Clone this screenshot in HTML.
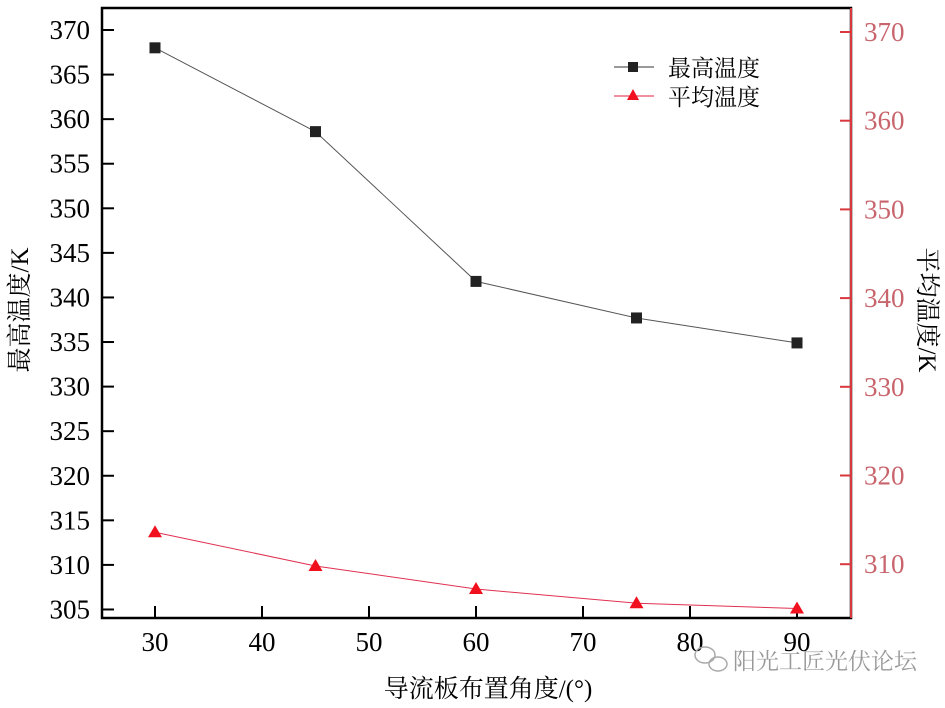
<!DOCTYPE html>
<html><head><meta charset="utf-8"><style>
body{margin:0;background:#fff}
svg text{font-family:"Liberation Serif","Noto Serif CJK SC",serif}
</style></head><body>
<svg id="c" width="945" height="703" viewBox="0 0 945 703">
<rect x="102" y="8" width="749" height="610" fill="none" stroke="#000" stroke-width="2.5"/>
<line x1="851" y1="8" x2="851" y2="618" stroke="#d9383f" stroke-width="2"/>
<g id="xt"></g><g id="yl"></g><g id="yr"></g><g id="series"></g>
<text x="28" y="310" font-size="25" transform="rotate(-90 28 310)" text-anchor="middle">最高温度/K</text>
<text x="919" y="310" font-size="25" transform="rotate(90 919 310)" text-anchor="middle">平均温度/K</text>
<text x="488" y="697" font-size="25" text-anchor="middle">导流板布置角度/(°)</text>
<g>
<line x1="614" y1="67" x2="654" y2="67" stroke="#333" stroke-width="1"/>
<rect x="628" y="62" width="10" height="10" fill="#222"/>
<text x="668" y="76" font-size="23">最高温度</text>
<line x1="614" y1="96" x2="654" y2="96" stroke="#e02040" stroke-width="1"/>
<polygon points="633,89 639,100 627,100" fill="#f0101e"/>
<text x="668" y="105" font-size="23">平均温度</text>
</g>
<text x="733" y="669" font-size="23" fill="#999" font-family="Liberation Sans,Noto Sans CJK SC,sans-serif">阳光工匠光伏论坛</text>
<g fill="none" stroke="#aaa" stroke-width="1.5"><ellipse cx="705" cy="655" rx="10" ry="8"/><ellipse cx="718" cy="664" rx="9" ry="7"/></g>
</svg>
<script>
const angles=[30,45,60,75,90];
const maxTemp=[368,358.6,341.8,337.7,334.9];
const avgTemp=[313.6,309.8,307.2,305.6,305.0];
const xTicks=[30,40,50,60,70,80,90];
const yLeftTicks=[305,310,315,320,325,330,335,340,345,350,355,360,365,370];
const yRightTicks=[310,320,330,340,350,360,370];
const NS='http://www.w3.org/2000/svg';
const X=v=>155+(v-30)*10.7;
const YL=v=>30+(370-v)*8.915;
const YR=v=>32+(370-v)*8.87;
function mk(t,a,p){const e=document.createElementNS(NS,t);for(const k in a)e.setAttribute(k,a[k]);p.appendChild(e);return e;}
const xt=document.getElementById('xt'),yl=document.getElementById('yl'),yr=document.getElementById('yr'),sg=document.getElementById('series');
xTicks.forEach(v=>{const l=mk('line',{x1:X(v),x2:X(v),y1:618,y2:606,stroke:'#000','stroke-width':2},xt);


const t=mk('text',{x:X(v),y:651,'font-size':27,'text-anchor':'middle'},xt);t.textContent=v;

});
yLeftTicks.forEach(v=>{const l=mk('line',{x1:102,x2:114,y1:YL(v),y2:YL(v),stroke:'#000','stroke-width':2},yl);


const t=mk('text',{x:90,y:YL(v)+9,'font-size':27,'text-anchor':'end'},yl);t.textContent=v;

});
yRightTicks.forEach(v=>{const l=mk('line',{x1:840,x2:851,y1:YR(v),y2:YR(v),stroke:'#d9383f','stroke-width':2},yr);


const t=mk('text',{x:864,y:YR(v)+9,'font-size':27,fill:'#c8646c'},yr);t.textContent=v;

});
const p1=mk('polyline',{points:angles.map((a,i)=>X(a)+','+YL(maxTemp[i])).join(' '),fill:'none',stroke:'#555','stroke-width':1},sg);


const p2=mk('polyline',{points:angles.map((a,i)=>X(a)+','+YR(avgTemp[i])).join(' '),fill:'none',stroke:'#e03050','stroke-width':1},sg);


angles.forEach((a,i)=>{const x=X(a),y=YL(maxTemp[i]);
const r=mk('rect',{x:x-5.5,y:y-5.5,width:11,height:11,fill:'#222'},sg);


const y2=YR(avgTemp[i]);
const t=mk('polygon',{points:`${x},${y2-7} ${x+7},${y2+5} ${x-7},${y2+5}`,fill:'#f0101e'},sg);

});
</script>
</body></html>
